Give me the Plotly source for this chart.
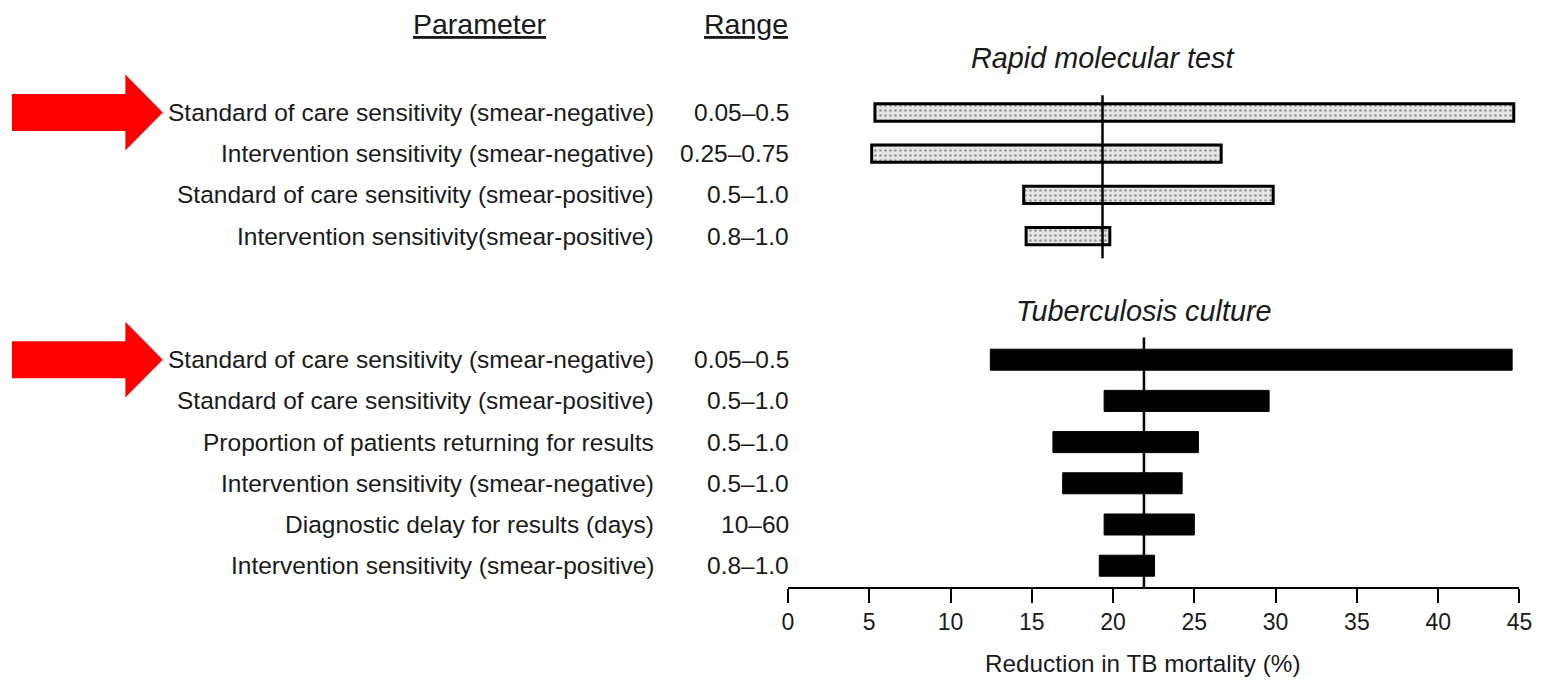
import plotly.graph_objects as go

# ---- data ----
rapid_params = [
    "Standard of care sensitivity (smear-negative)",
    "Intervention sensitivity (smear-negative)",
    "Standard of care sensitivity (smear-positive)",
    "Intervention sensitivity(smear-positive)",
]
rapid_ranges = ["0.05\u20130.5", "0.25\u20130.75", "0.5\u20131.0", "0.8\u20131.0"]
rapid_low = [5.35, 5.15, 14.5, 14.65]
rapid_high = [44.65, 26.65, 29.85, 19.8]
rapid_base = 19.35

culture_params = [
    "Standard of care sensitivity (smear-negative)",
    "Standard of care sensitivity (smear-positive)",
    "Proportion of patients returning for results",
    "Intervention sensitivity (smear-negative)",
    "Diagnostic delay for results (days)",
    "Intervention sensitivity (smear-positive)",
]
culture_ranges = ["0.05\u20130.5", "0.5\u20131.0", "0.5\u20131.0", "0.5\u20131.0", "10\u201360", "0.8\u20131.0"]
culture_low = [12.45, 19.45, 16.3, 16.9, 19.45, 19.15]
culture_high = [44.55, 29.6, 25.25, 24.25, 25.0, 22.55]
culture_base = 21.9

rapid_rows = [0, 1, 2, 3]
culture_rows = [6, 7, 8, 9, 10, 11]
arrow_rows = [0, 6]

x_ticks = [0, 5, 10, 15, 20, 25, 30, 35, 40, 45]
x_title = "Reduction in TB mortality (%)"

FONT = "Liberation Sans, Arial, Helvetica, sans-serif"
TXT = "#1a1a1a"

# page placement calibration (body margin etc.)
OFF_Y = 8
OFF_X, SCALE_X = 11.5, 0.989
W, H = 1540, 678


def px(x):
    return (x - OFF_X) / SCALE_X / W


def py(y):
    return 1 - (y - OFF_Y) / H


# plot area: top at page y=8, x-axis line at page y=587; row spacing 41.2 px
ROW0_Y, ROW_SP, AXIS_Y = 112.5, 41.2, 587
y_top = -(ROW0_Y - OFF_Y) / ROW_SP
y_bot = (AXIS_Y - ROW0_Y) / ROW_SP

fig = go.Figure()

fig.add_trace(go.Bar(
    orientation="h",
    y=rapid_rows,
    base=rapid_low,
    x=[h - l for h, l in zip(rapid_high, rapid_low)],
    width=0.42,
    marker=dict(
        color="#e6e6e6",
        line=dict(color="black", width=3),
        pattern=dict(shape=".", fgcolor="#444444", bgcolor="#e6e6e6", size=5, solidity=0.22),
    ),
    showlegend=False,
    hoverinfo="skip",
))

fig.add_trace(go.Bar(
    orientation="h",
    y=culture_rows,
    base=culture_low,
    x=[h - l for h, l in zip(culture_high, culture_low)],
    width=0.51,
    marker=dict(color="black", line=dict(color="black", width=1)),
    showlegend=False,
    hoverinfo="skip",
))

# baseline vertical lines
fig.add_trace(go.Scatter(
    x=[rapid_base, rapid_base], y=[-0.42, 3.54], mode="lines",
    line=dict(color="black", width=2.5), showlegend=False, hoverinfo="skip"))
fig.add_trace(go.Scatter(
    x=[culture_base, culture_base], y=[5.46, y_bot], mode="lines",
    line=dict(color="black", width=2.5), showlegend=False, hoverinfo="skip"))

annotations = []
for rows, params, ranges in [(rapid_rows, rapid_params, rapid_ranges),
                             (culture_rows, culture_params, culture_ranges)]:
    for r, p, rg in zip(rows, params, ranges):
        annotations.append(dict(x=px(654), y=r, xref="paper", yref="y", text=p,
                                showarrow=False, xanchor="right", yanchor="middle",
                                font=dict(size=24.5, color=TXT, family=FONT)))
        annotations.append(dict(x=px(790), y=r, xref="paper", yref="y", text=rg,
                                showarrow=False, xanchor="right", yanchor="middle",
                                font=dict(size=24.5, color=TXT, family=FONT)))

annotations.append(dict(x=px(478), y=py(24), xref="paper", yref="paper",
                        text="<u>Parameter</u>", showarrow=False, xanchor="center",
                        yanchor="middle", font=dict(size=28.5, color=TXT, family=FONT)))
annotations.append(dict(x=px(744), y=py(24), xref="paper", yref="paper",
                        text="<u>Range</u>", showarrow=False, xanchor="center",
                        yanchor="middle", font=dict(size=28.5, color=TXT, family=FONT)))
annotations.append(dict(x=rapid_base, y=-1.32, xref="x", yref="y",
                        text="<i>Rapid molecular test</i>", showarrow=False,
                        xanchor="center", yanchor="middle",
                        font=dict(size=28.8, color=TXT, family=FONT)))
annotations.append(dict(x=culture_base, y=4.82, xref="x", yref="y",
                        text="<i>Tuberculosis culture</i>", showarrow=False,
                        xanchor="center", yanchor="middle",
                        font=dict(size=28.8, color=TXT, family=FONT)))
# x-axis title (placed like the original, slightly left of the axis centre)
annotations.append(dict(x=px(1142), y=py(663), xref="paper", yref="paper",
                        text=x_title, showarrow=False, xanchor="center",
                        yanchor="middle", font=dict(size=24.3, color=TXT, family=FONT)))

# red arrows (decoration), positioned at the highlighted rows
shapes = []
for r in arrow_rows:
    x0, xb, xt = px(9.5), px(123), px(160.5)
    path = (f"M {x0},{r - 0.45} L {xb},{r - 0.45} L {xb},{r - 0.92} L {xt},{r} "
            f"L {xb},{r + 0.92} L {xb},{r + 0.45} L {x0},{r + 0.45} Z")
    shapes.append(dict(type="path", xref="paper", yref="y", path=path,
                       fillcolor="#ff0000", line=dict(width=0)))

fig.update_layout(
    width=W, height=H,
    margin=dict(l=0, r=0, t=0, b=0),
    plot_bgcolor="white", paper_bgcolor="white",
    barmode="overlay",
    annotations=annotations,
    shapes=shapes,
    xaxis=dict(
        domain=[px(786.5), px(1519)],
        range=[0, 45], tickvals=x_ticks, ticktext=[str(t) for t in x_ticks],
        showgrid=False, zeroline=False,
        showline=True, linecolor="black", linewidth=1.5,
        ticks="outside", ticklen=14, tickwidth=1.5, tickcolor="black",
        tickfont=dict(size=23, color=TXT, family=FONT),
        fixedrange=True,
    ),
    yaxis=dict(
        domain=[py(AXIS_Y), 1],
        range=[y_bot, y_top],
        visible=False, showgrid=False, zeroline=False, fixedrange=True,
    ),
)

fig.write_html("out.html")
